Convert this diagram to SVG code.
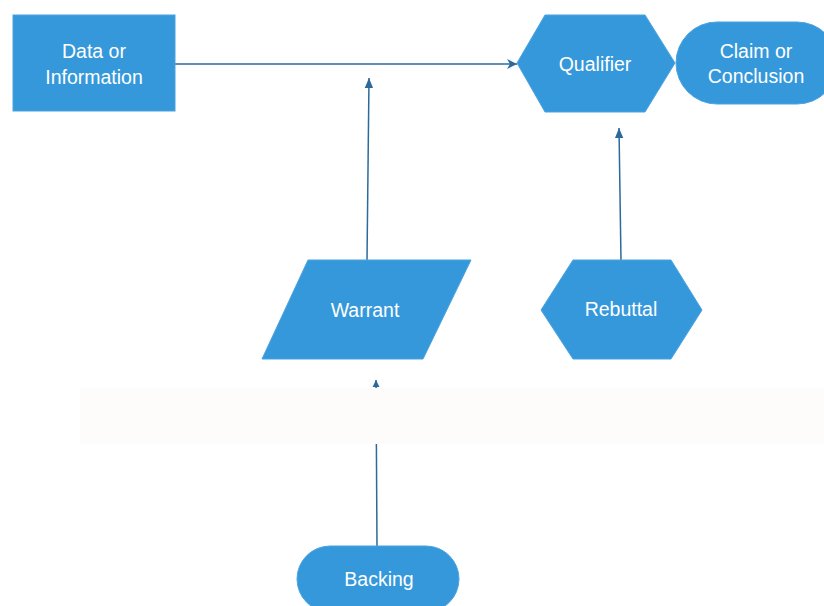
<svg xmlns="http://www.w3.org/2000/svg" width="824" height="606" viewBox="0 0 824 606">
<style>
.n{fill:#3598db;stroke:#4aa3e0;stroke-width:1}
.t{fill:#ffffff;font-family:"Liberation Sans",Arial,sans-serif;font-size:19.5px;text-anchor:middle}
.c{stroke:#2c6a9c;stroke-width:1.5;fill:none}
</style>
<defs>
<marker id="a" markerWidth="12" markerHeight="12" refX="10" refY="5" orient="auto" markerUnits="userSpaceOnUse" viewBox="0 0 12 10">
<path d="M0,0 L10,5 L0,10 L3,5 Z" fill="#2c6a9c"/>
</marker>
<marker id="b" markerWidth="10" markerHeight="12" refX="12" refY="5" orient="auto" markerUnits="userSpaceOnUse" viewBox="0 0 12 10">
<path d="M0,0 L12,5 L0,10 Z" fill="#2c6a9c"/>
</marker>
<marker id="s" markerWidth="7" markerHeight="8" refX="8" refY="4" orient="auto" markerUnits="userSpaceOnUse" viewBox="0 0 8 8">
<path d="M0,0 L8,4 L0,8 Z" fill="#2c6a9c"/>
</marker>
</defs>
<rect width="824" height="606" fill="#ffffff"/>
<g id="connectors">
<line class="c" x1="175" y1="64" x2="517" y2="64" marker-end="url(#a)"/>
<line class="c" x1="367" y1="261" x2="369" y2="78" marker-end="url(#b)"/>
<line class="c" x1="621" y1="261" x2="619" y2="128" marker-end="url(#b)"/>
<line class="c" x1="377" y1="546" x2="376" y2="380" marker-end="url(#s)"/>
</g>
<rect x="80" y="388" width="744" height="56" fill="#fdfcfa"/>
<g id="data">
<rect class="n" x="13" y="15" width="162" height="96"/>
<text class="t" x="94" y="58">Data or</text>
<text class="t" x="94" y="84">Information</text>
</g>
<g id="qualifier">
<polygon class="n" points="517,63 545,15 645,15 675,63 645,112 545,112"/>
<text class="t" x="595" y="71">Qualifier</text>
</g>
<g id="claim">
<rect class="n" x="676" y="22" width="162" height="82" rx="41" ry="41"/>
<text class="t" x="756" y="58">Claim or</text>
<text class="t" x="756" y="83">Conclusion</text>
</g>
<g id="warrant">
<polygon class="n" points="308,260 471,260 423,359 262,359"/>
<text class="t" x="365" y="317">Warrant</text>
</g>
<g id="rebuttal">
<polygon class="n" points="541,310 573,260 671,260 702,310 671,359 573,359"/>
<text class="t" x="621" y="316">Rebuttal</text>
</g>
<g id="backing">
<rect class="n" x="297" y="546" width="162" height="66" rx="33" ry="33"/>
<text class="t" x="379" y="586">Backing</text>
</g>
</svg>
